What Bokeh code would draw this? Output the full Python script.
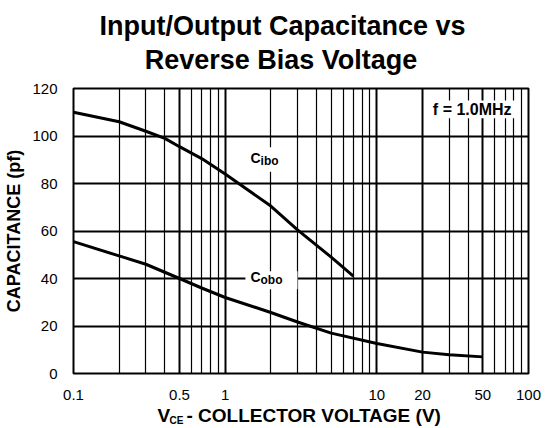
from bokeh.plotting import figure
from bokeh.layouts import column
from bokeh.models import (Range1d, FixedTicker, Grid, Label, BoxAnnotation)
from bokeh.embed import file_html
from bokeh.resources import INLINE

# ---- data ----
ibo_v = [0.1, 0.2, 0.3, 0.4, 0.5, 0.7, 1, 2, 3, 5, 7]
ibo_c = [110, 106, 102, 99, 95.5, 90.5, 84, 70.5, 60.5, 49, 41]
obo_v = [0.1, 0.2, 0.3, 0.5, 0.7, 1, 2, 3, 5, 10, 20, 30, 50]
obo_c = [55.5, 49.5, 46, 40, 36, 32, 25.7, 21.7, 17, 12.6, 9, 7.9, 7]
x_ticks = [0.1, 0.5, 1, 10, 20, 50, 100]
x_tick_labels = ["0.1", "0.5", "1", "10", "20", "50", "100"]
y_ticks = [0, 20, 40, 60, 80, 100, 120]
x_grid_minor = [0.2, 0.3, 0.4, 0.6, 0.7, 0.8, 0.9, 2, 3, 4, 5, 6, 7, 8, 9,
                30, 40, 60, 70, 80, 90]
x_grid_major = [0.5, 1, 10, 20, 50]
y_grid = [20, 40, 60, 80, 100]
title_lines = ["Input/Output Capacitance vs", "Reverse Bias Voltage"]
y_title = "CAPACITANCE (pf)"

FONT = "Liberation Sans"
W = 550


def lab(fig, x, y, text, size, xo=0, yo=0, align="left",
        baseline="middle", bold=True):
    fig.add_layout(Label(x=x, y=y, text=text, x_offset=xo, y_offset=yo,
                         text_font=FONT, text_font_size=size,
                         text_font_style="bold" if bold else "normal",
                         text_color="black", text_align=align,
                         text_baseline=baseline))


def blank(height, y0, y1):
    # page-pixel coordinates; frame lines up with the chart frame (x 73..528)
    f = figure(width=W, height=height, x_range=Range1d(73, 528),
               y_range=Range1d(y1, y0), x_axis_type=None, y_axis_type=None,
               output_backend="svg", toolbar_location=None, title=None,
               min_border_left=73, min_border_right=22,
               min_border_top=0, min_border_bottom=0)
    f.outline_line_color = None
    f.background_fill_color = "white"
    f.border_fill_color = "white"
    return f


# ---- title strip ----
top = blank(80, 0, 80)
lab(top, 282, 25, title_lines[0], "27px", align="center")
lab(top, 280.5, 59, title_lines[1], "27px", align="center")

# ---- main chart ----
p = figure(width=W, height=322, x_axis_type="log",
           x_range=Range1d(0.1, 100), y_range=Range1d(0, 120),
           output_backend="svg", toolbar_location=None, title=None,
           min_border_left=73, min_border_right=22,
           min_border_top=8, min_border_bottom=27)
p.outline_line_color = "black"
p.outline_line_width = 2
for ax in (p.xaxis[0], p.yaxis[0]):
    ax.major_tick_line_color = None
    ax.minor_tick_line_color = None
    ax.axis_line_color = None
    ax.major_label_text_font = FONT
    ax.major_label_text_font_size = "15px"
    ax.major_label_text_color = "black"
    ax.major_label_standoff = 10
p.xaxis[0].ticker = FixedTicker(ticks=x_ticks)
p.xaxis[0].major_label_overrides = {t: l for t, l in zip(x_ticks, x_tick_labels)}
p.yaxis[0].ticker = FixedTicker(ticks=y_ticks)
p.yaxis[0].axis_label = y_title
p.yaxis[0].axis_label_text_font = FONT
p.yaxis[0].axis_label_text_font_size = "18px"
p.yaxis[0].axis_label_text_font_style = "bold"
p.yaxis[0].axis_label_text_color = "black"
p.yaxis[0].axis_label_standoff = 5

p.xgrid.visible = False
p.ygrid.visible = False
for g in (Grid(dimension=0, ticker=FixedTicker(ticks=x_grid_minor),
               grid_line_color="black", grid_line_width=1.2),
          Grid(dimension=0, ticker=FixedTicker(ticks=x_grid_major),
               grid_line_color="black", grid_line_width=2),
          Grid(dimension=1, ticker=FixedTicker(ticks=y_grid),
               grid_line_color="black", grid_line_width=2)):
    p.add_layout(g)

p.line(ibo_v, ibo_c, line_color="black", line_width=3, line_join="round")
p.line(obo_v, obo_c, line_color="black", line_width=3, line_join="round")

# white backgrounds behind in-plot labels
p.add_layout(BoxAnnotation(left=1.36, right=2.7, bottom=85, top=95.3,
                           fill_color="white", fill_alpha=1, line_color=None))
p.add_layout(BoxAnnotation(left=1.36, right=3.0, bottom=35.5, top=43.1,
                           fill_color="white", fill_alpha=1, line_color=None))
p.add_layout(BoxAnnotation(left=20.8, right=88, bottom=107.5, top=115,
                           fill_color="white", fill_alpha=1, line_color=None))

lab(p, 1.47, 90.7, "C", "14px")
lab(p, 1.47, 90.7, "ibo", "12px", xo=10, yo=-3)
lab(p, 1.47, 40.6, "C", "14px")
lab(p, 1.47, 40.6, "obo", "12px", xo=10, yo=-3)
lab(p, 44, 111.2, "f  = 1.0MHz", "16px", align="center")

# ---- x axis title strip ----
bot = blank(26, 402, 428)
lab(bot, 157, 415, "V", "19px")
lab(bot, 169, 419.5, "CE", "10px")
lab(bot, 186, 415, "- COLLECTOR VOLTAGE (V)", "19px")

layout = column(top, p, bot, spacing=0)
open("out.html", "w").write(file_html(layout, INLINE))
